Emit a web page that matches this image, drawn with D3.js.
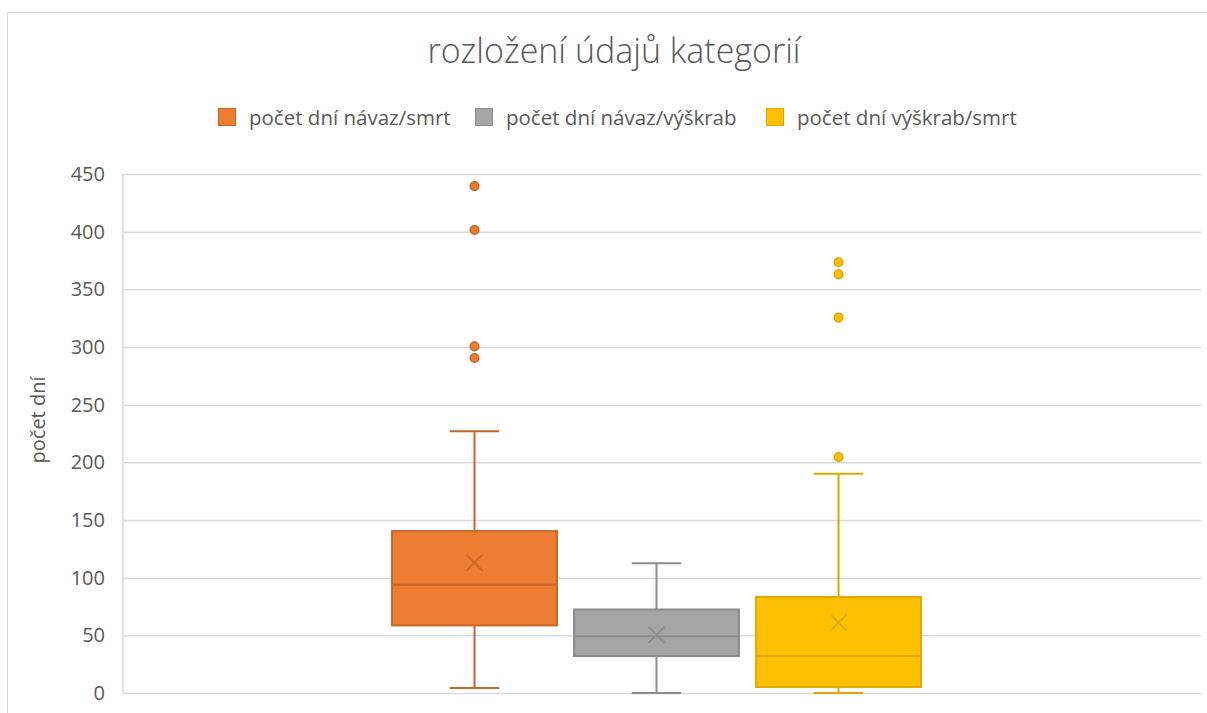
<!DOCTYPE html>
<html>
<head>
<meta charset="utf-8">
<script src="https://cdn.jsdelivr.net/npm/d3@7"></script>
<style>
  body { margin: 0; background: #fff; }
  text { font-family: "Open Sans", "Noto Sans", sans-serif; fill: #595959; }
</style>
</head>
<body>
<svg id="chart" width="1207" height="713"></svg>
<script>
// box plot data
const series = ["počet dní návaz/smrt", "počet dní návaz/výškrab", "počet dní výškrab/smrt"];
const whisker_low = [4.4, 0, 0];
const q1 = [58.6, 32, 5.2];
const median = [93.8, 49.3, 32];
const q3 = [140.4, 72.4, 83.3];
const whisker_high = [227, 112.5, 190];
const mean = [113, 50.5, 61];
const outliers = [[439.5, 401.5, 300.5, 290.5], [], [204.5, 325.5, 363, 373.5]];
const y_ticks = [0, 50, 100, 150, 200, 250, 300, 350, 400, 450];

const fills = ["#ED7D31", "#A5A5A5", "#FFC000"];
const strokes = ["#C9652A", "#8C8C8C", "#DDA800"];

const title = "rozložení údajů kategorií";
const y_title = "počet dní";

const svg = d3.select("#chart");
const width = 1207, height = 713;
const margin = {top: 174, right: 6, bottom: 20, left: 123};

// outer chart frame
svg.append("rect")
	.attr("x", 7.5).attr("y", 12.5)
	.attr("width", width).attr("height", height)
	.attr("fill", "none")
	.attr("stroke", "#D9D9D9");

const y = d3.scaleLinear()
	.domain([0, 450])
	.range([height - margin.bottom, margin.top]);

// one category, three series side by side
const x0 = d3.scaleBand()
	.domain(["all"])
	.range([margin.left, width - margin.right])
	.paddingOuter(0.519)
	.align(0.49);

const x1 = d3.scaleBand()
	.domain(series)
	.range([x0("all"), x0("all") + x0.bandwidth()])
	.paddingInner(0.094);

// gridlines
svg.append("g")
	.attr("transform", `translate(${margin.left},0)`)
	.call(d3.axisLeft(y).tickValues(y_ticks).tickSize(-(width - margin.right - margin.left)).tickFormat(""))
	.call(g => g.select(".domain").remove())
	.call(g => g.selectAll("line").attr("stroke", "#D9D9D9").attr("stroke-width", 1.5));

// left axis line
svg.append("line")
	.attr("x1", margin.left).attr("x2", margin.left)
	.attr("y1", y(450)).attr("y2", y(0))
	.attr("stroke", "#D9D9D9").attr("stroke-width", 1.5);

// tick labels
svg.append("g")
	.attr("transform", `translate(${margin.left},0)`)
	.call(d3.axisLeft(y).tickValues(y_ticks).tickSize(0).tickPadding(18))
	.call(g => g.select(".domain").remove())
	.call(g => g.selectAll("text")
		.style("font-family", '"Open Sans", sans-serif')
		.style("font-size", "20px")
		.attr("fill", "#595959"));

// boxes
const boxes = svg.append("g")
	.selectAll("g")
	.data(series)
	.enter()
	.append("g");

boxes.each(function(s, i) {
	const g = d3.select(this);
	const bx = x1(s), bw = x1.bandwidth(), cx = bx + bw / 2;
	const cap = bw * 0.3;

	// whiskers
	g.append("line")
		.attr("x1", cx).attr("x2", cx)
		.attr("y1", y(whisker_high[i])).attr("y2", y(q3[i]))
		.attr("stroke", strokes[i]).attr("stroke-width", 2);
	g.append("line")
		.attr("x1", cx).attr("x2", cx)
		.attr("y1", y(q1[i])).attr("y2", y(whisker_low[i]))
		.attr("stroke", strokes[i]).attr("stroke-width", 2);
	[whisker_high[i], whisker_low[i]].forEach(v => {
		g.append("line")
			.attr("x1", cx - cap / 2).attr("x2", cx + cap / 2)
			.attr("y1", y(v)).attr("y2", y(v))
			.attr("stroke", strokes[i]).attr("stroke-width", 2);
	});

	g.append("rect")
		.attr("x", bx).attr("width", bw)
		.attr("y", y(q3[i])).attr("height", y(q1[i]) - y(q3[i]))
		.attr("fill", fills[i])
		.attr("stroke", strokes[i]).attr("stroke-width", 2);

	g.append("line")
		.attr("x1", bx).attr("x2", bx + bw)
		.attr("y1", y(median[i])).attr("y2", y(median[i]))
		.attr("stroke", strokes[i]).attr("stroke-width", 2);

	// mean marker
	const m = 8;
	g.append("path")
		.attr("d", `M${cx - m},${y(mean[i]) - m}L${cx + m},${y(mean[i]) + m}M${cx - m},${y(mean[i]) + m}L${cx + m},${y(mean[i]) - m}`)
		.attr("stroke", strokes[i]).attr("stroke-width", 1.8)
		.attr("fill", "none");

	g.selectAll("circle")
		.data(outliers[i])
		.enter()
		.append("circle")
		.attr("cx", cx)
		.attr("cy", d => y(d))
		.attr("r", 4.3)
		.attr("fill", fills[i])
		.attr("stroke", strokes[i])
		.attr("stroke-width", 1.5);
});

// title
svg.append("text")
	.attr("x", 614).attr("y", 63)
	.attr("text-anchor", "middle")
	.style("font-size", "34px")
	.style("font-weight", 300)
	.text(title);

// y axis title
svg.append("text")
	.attr("transform", "translate(45,420) rotate(-90)")
	.attr("text-anchor", "middle")
	.style("font-size", "20px")
	.text(y_title);

// legend
const legend_x = [218, 475, 766];
const legend = svg.append("g")
	.selectAll("g")
	.data(series)
	.enter()
	.append("g")
	.attr("transform", (d, i) => `translate(${legend_x[i]},108)`);

legend.append("rect")
	.attr("width", 17).attr("height", 17)
	.attr("x", 0.5).attr("y", 0.5)
	.attr("fill", (d, i) => fills[i])
	.attr("stroke", (d, i) => strokes[i]);

legend.append("text")
	.attr("x", 31).attr("y", 17)
	.style("font-size", "20.5px")
	.text(d => d);
</script>
</body>
</html>
